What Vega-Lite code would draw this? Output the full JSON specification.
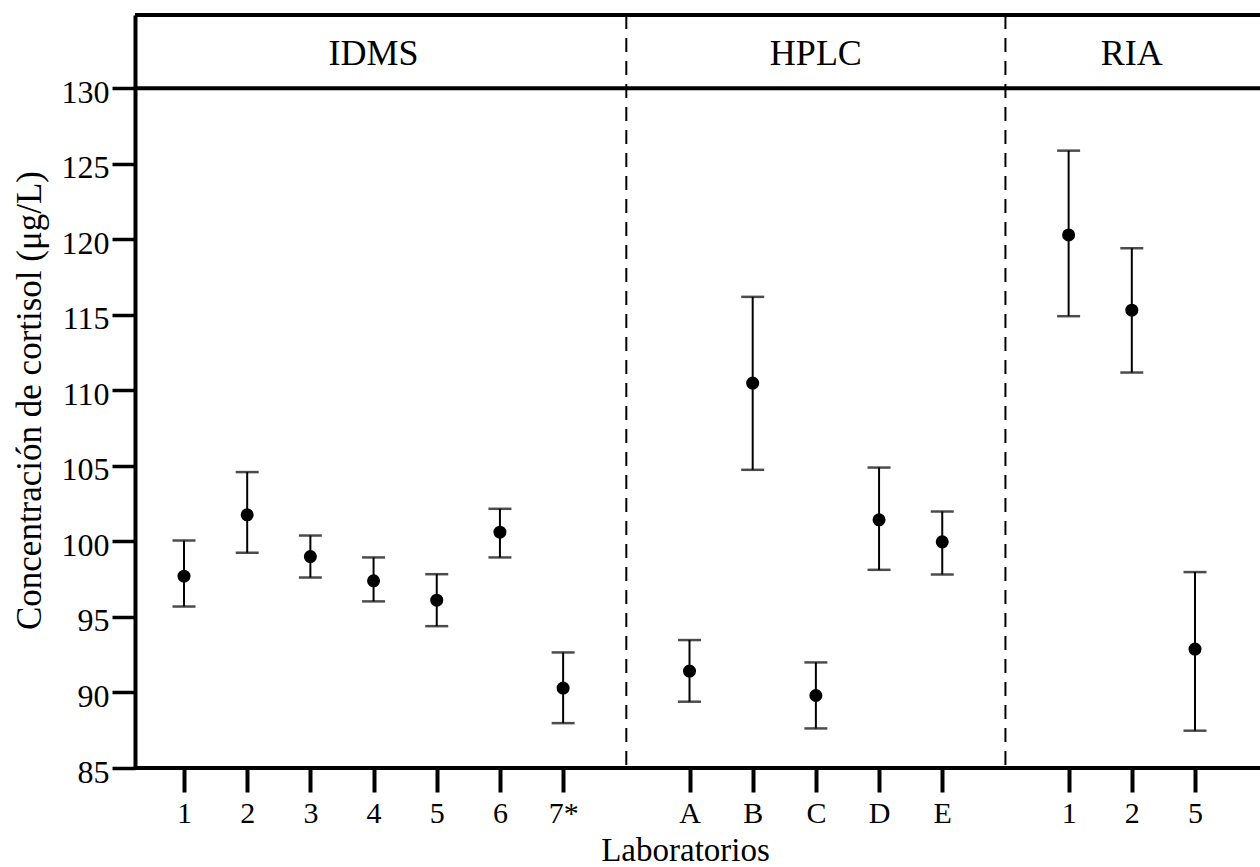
{
  "$schema": "https://vega.github.io/schema/vega-lite/v6.json",
  "width": 1125,
  "height": 753,
  "autosize": {"type": "none"},
  "padding": {"left": 135, "top": 15, "right": 0, "bottom": 99},
  "background": "white",
  "config": {
    "view": {"stroke": null},
    "font": "Liberation Serif",
    "axis": {"grid": false, "labelColor": "black", "titleColor": "black", "tickColor": "black", "domainColor": "black", "labelFont": "Liberation Serif", "titleFont": "Liberation Serif", "titleFontWeight": "normal"},
    "axisX": {"domain": false, "tickSize": 24, "tickWidth": 4, "labelFontSize": 30, "labelPadding": 6, "labelAngle": 0, "titleFontSize": 33, "titleX": 550, "titleY": 92, "titleBaseline": "alphabetic", "titleAlign": "center"},
    "axisY": {"domainWidth": 4, "tickSize": 23, "tickWidth": 3.5, "labelFontSize": 32, "labelPadding": 3, "labelOffset": 4, "titleFontSize": 35, "titleX": -95, "titleY": 385, "titleBaseline": "alphabetic", "titleAlign": "center", "titleAngle": -90}
  },
  "datasets": {
    "labs": [
      {"key": "IDMS 1", "method": "IDMS", "value": 97.70, "lo": 95.69, "hi": 100.06},
      {"key": "IDMS 2", "method": "IDMS", "value": 101.76, "lo": 99.25, "hi": 104.59},
      {"key": "IDMS 3", "method": "IDMS", "value": 99.00, "lo": 97.61, "hi": 100.39},
      {"key": "IDMS 4", "method": "IDMS", "value": 97.39, "lo": 96.03, "hi": 98.94},
      {"key": "IDMS 5", "method": "IDMS", "value": 96.11, "lo": 94.39, "hi": 97.83},
      {"key": "IDMS 6", "method": "IDMS", "value": 100.61, "lo": 98.94, "hi": 102.16},
      {"key": "IDMS 7*", "method": "IDMS", "value": 90.29, "lo": 87.97, "hi": 92.65},
      {"key": "HPLC A", "method": "HPLC", "value": 91.42, "lo": 89.39, "hi": 93.47},
      {"key": "HPLC B", "method": "HPLC", "value": 110.48, "lo": 104.74, "hi": 116.19},
      {"key": "HPLC C", "method": "HPLC", "value": 89.80, "lo": 87.62, "hi": 91.99},
      {"key": "HPLC D", "method": "HPLC", "value": 101.43, "lo": 98.12, "hi": 104.89},
      {"key": "HPLC E", "method": "HPLC", "value": 99.97, "lo": 97.81, "hi": 101.98},
      {"key": "RIA 1", "method": "RIA", "value": 120.29, "lo": 114.91, "hi": 125.87},
      {"key": "RIA 2", "method": "RIA", "value": 115.31, "lo": 111.18, "hi": 119.41},
      {"key": "RIA 5", "method": "RIA", "value": 92.87, "lo": 87.47, "hi": 97.97}
    ],
    "seps": [{"key": "gap1"}, {"key": "gap2"}],
    "heads": [
      {"key": "IDMS 4", "method": "IDMS"},
      {"key": "HPLC C", "method": "HPLC"},
      {"key": "RIA 2", "method": "RIA"}
    ]
  },
  "layer": [
    {
      "data": {"name": "seps"},
      "mark": {"type": "rule", "color": "black", "strokeWidth": 2, "strokeDash": [14, 9]},
      "encoding": {
        "x": {"field": "key", "type": "nominal", "sort": null,
          "scale": {"type": "point", "padding": 0, "domain": ["IDMS 1","IDMS 2","IDMS 3","IDMS 4","IDMS 5","IDMS 6","IDMS 7*","gap1","HPLC A","HPLC B","HPLC C","HPLC D","HPLC E","gap2","RIA 1","RIA 2","RIA 5"], "range": [49, 1060]},
          "axis": {"values": ["IDMS 1","IDMS 2","IDMS 3","IDMS 4","IDMS 5","IDMS 6","IDMS 7*","HPLC A","HPLC B","HPLC C","HPLC D","HPLC E","RIA 1","RIA 2","RIA 5"], "labelExpr": "split(datum.value, ' ')[1]", "title": "Laboratorios"}}
      }
    },
    {
      "data": {"values": [{}]},
      "mark": {"type": "rule", "color": "black", "strokeWidth": 4},
      "encoding": {"y": {"datum": 130, "type": "quantitative", "scale": {"domain": [85, 134.85], "nice": false, "zero": false}, "axis": {"values": [85,90,95,100,105,110,115,120,125,130], "title": "Concentración de cortisol (μg/L)"}}}
    },
    {
      "data": {"values": [{}]},
      "mark": {"type": "rule", "color": "black", "strokeWidth": 4},
      "encoding": {"y": {"datum": 134.85, "type": "quantitative", "scale": {"domain": [85, 134.85], "nice": false, "zero": false}, "axis": {"values": [85,90,95,100,105,110,115,120,125,130], "title": "Concentración de cortisol (μg/L)"}}}
    },
    {
      "data": {"values": [{}]},
      "mark": {"type": "rule", "color": "black", "strokeWidth": 4},
      "encoding": {"y": {"datum": 85, "type": "quantitative", "scale": {"domain": [85, 134.85], "nice": false, "zero": false}, "axis": {"values": [85,90,95,100,105,110,115,120,125,130], "title": "Concentración de cortisol (μg/L)"}}}
    },
    {
      "data": {"name": "heads"},
      "mark": {"type": "text", "color": "black", "fontSize": 36, "font": "Liberation Serif", "baseline": "alphabetic", "align": "center"},
      "encoding": {
        "x": {"field": "key", "type": "nominal", "sort": null,
          "scale": {"type": "point", "padding": 0, "domain": ["IDMS 1","IDMS 2","IDMS 3","IDMS 4","IDMS 5","IDMS 6","IDMS 7*","gap1","HPLC A","HPLC B","HPLC C","HPLC D","HPLC E","gap2","RIA 1","RIA 2","RIA 5"], "range": [49, 1060]},
          "axis": {"values": ["IDMS 1","IDMS 2","IDMS 3","IDMS 4","IDMS 5","IDMS 6","IDMS 7*","HPLC A","HPLC B","HPLC C","HPLC D","HPLC E","RIA 1","RIA 2","RIA 5"], "labelExpr": "split(datum.value, ' ')[1]", "title": "Laboratorios"}},
        "y": {"datum": 131.55, "type": "quantitative", "scale": {"domain": [85, 134.85], "nice": false, "zero": false}, "axis": {"values": [85,90,95,100,105,110,115,120,125,130], "title": "Concentración de cortisol (μg/L)"}},
        "text": {"field": "method", "type": "nominal"}
      }
    },
    {
      "data": {"name": "labs"},
      "mark": {"type": "rule", "color": "black", "strokeWidth": 2},
      "encoding": {
        "x": {"field": "key", "type": "nominal", "sort": null,
          "scale": {"type": "point", "padding": 0, "domain": ["IDMS 1","IDMS 2","IDMS 3","IDMS 4","IDMS 5","IDMS 6","IDMS 7*","gap1","HPLC A","HPLC B","HPLC C","HPLC D","HPLC E","gap2","RIA 1","RIA 2","RIA 5"], "range": [49, 1060]},
          "axis": {"values": ["IDMS 1","IDMS 2","IDMS 3","IDMS 4","IDMS 5","IDMS 6","IDMS 7*","HPLC A","HPLC B","HPLC C","HPLC D","HPLC E","RIA 1","RIA 2","RIA 5"], "labelExpr": "split(datum.value, ' ')[1]", "title": "Laboratorios"}},
        "y": {"field": "lo", "type": "quantitative", "scale": {"domain": [85, 134.85], "nice": false, "zero": false}, "axis": {"values": [85,90,95,100,105,110,115,120,125,130], "title": "Concentración de cortisol (μg/L)"}},
        "y2": {"field": "hi"}
      }
    },
    {
      "data": {"name": "labs"},
      "mark": {"type": "tick", "color": "black", "size": 23, "thickness": 2.5, "orient": "horizontal"},
      "encoding": {
        "x": {"field": "key", "type": "nominal", "sort": null,
          "scale": {"type": "point", "padding": 0, "domain": ["IDMS 1","IDMS 2","IDMS 3","IDMS 4","IDMS 5","IDMS 6","IDMS 7*","gap1","HPLC A","HPLC B","HPLC C","HPLC D","HPLC E","gap2","RIA 1","RIA 2","RIA 5"], "range": [49, 1060]},
          "axis": {"values": ["IDMS 1","IDMS 2","IDMS 3","IDMS 4","IDMS 5","IDMS 6","IDMS 7*","HPLC A","HPLC B","HPLC C","HPLC D","HPLC E","RIA 1","RIA 2","RIA 5"], "labelExpr": "split(datum.value, ' ')[1]", "title": "Laboratorios"}},
        "y": {"field": "lo", "type": "quantitative", "scale": {"domain": [85, 134.85], "nice": false, "zero": false}, "axis": {"values": [85,90,95,100,105,110,115,120,125,130], "title": "Concentración de cortisol (μg/L)"}}
      }
    },
    {
      "data": {"name": "labs"},
      "mark": {"type": "tick", "color": "black", "size": 23, "thickness": 2.5, "orient": "horizontal"},
      "encoding": {
        "x": {"field": "key", "type": "nominal", "sort": null,
          "scale": {"type": "point", "padding": 0, "domain": ["IDMS 1","IDMS 2","IDMS 3","IDMS 4","IDMS 5","IDMS 6","IDMS 7*","gap1","HPLC A","HPLC B","HPLC C","HPLC D","HPLC E","gap2","RIA 1","RIA 2","RIA 5"], "range": [49, 1060]},
          "axis": {"values": ["IDMS 1","IDMS 2","IDMS 3","IDMS 4","IDMS 5","IDMS 6","IDMS 7*","HPLC A","HPLC B","HPLC C","HPLC D","HPLC E","RIA 1","RIA 2","RIA 5"], "labelExpr": "split(datum.value, ' ')[1]", "title": "Laboratorios"}},
        "y": {"field": "hi", "type": "quantitative", "scale": {"domain": [85, 134.85], "nice": false, "zero": false}, "axis": {"values": [85,90,95,100,105,110,115,120,125,130], "title": "Concentración de cortisol (μg/L)"}}
      }
    },
    {
      "data": {"name": "labs"},
      "mark": {"type": "circle", "color": "black", "opacity": 1, "size": 170},
      "encoding": {
        "x": {"field": "key", "type": "nominal", "sort": null,
          "scale": {"type": "point", "padding": 0, "domain": ["IDMS 1","IDMS 2","IDMS 3","IDMS 4","IDMS 5","IDMS 6","IDMS 7*","gap1","HPLC A","HPLC B","HPLC C","HPLC D","HPLC E","gap2","RIA 1","RIA 2","RIA 5"], "range": [49, 1060]},
          "axis": {"values": ["IDMS 1","IDMS 2","IDMS 3","IDMS 4","IDMS 5","IDMS 6","IDMS 7*","HPLC A","HPLC B","HPLC C","HPLC D","HPLC E","RIA 1","RIA 2","RIA 5"], "labelExpr": "split(datum.value, ' ')[1]", "title": "Laboratorios"}},
        "y": {"field": "value", "type": "quantitative", "scale": {"domain": [85, 134.85], "nice": false, "zero": false}, "axis": {"values": [85,90,95,100,105,110,115,120,125,130], "title": "Concentración de cortisol (μg/L)"}}
      }
    }
  ]
}
